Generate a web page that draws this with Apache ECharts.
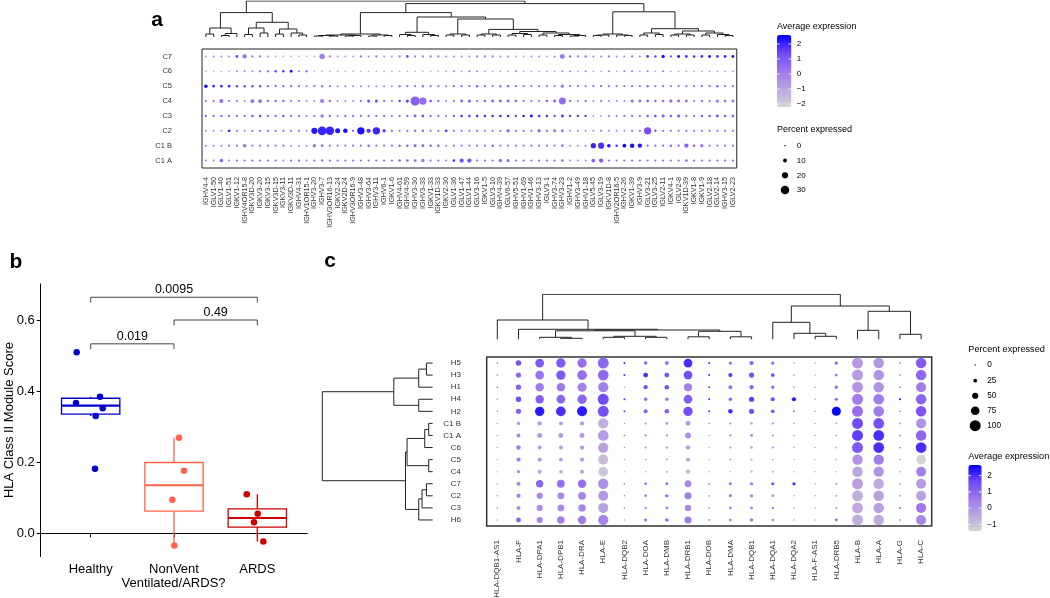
<!DOCTYPE html>
<html><head><meta charset="utf-8">
<script src="https://cdn.jsdelivr.net/npm/echarts@6/dist/echarts.min.js"></script>
<style>html,body{margin:0;padding:0;background:#fff}#c{width:1050px;height:598px}</style>
</head><body><div id="c"></div>
<script>
// ================= Panel a data =================
const aGenes = ['IGHV4-4','IGLV1-50','IGLV1-40','IGLV1-51','IGKV1-12','IGHV4OR15-8','IGKV3D-20','IGKV3-20','IGKV3-15','IGKV3D-15','IGKV3-11','IGKV3D-11','IGHV4-31','IGHV1OR15-1','IGHV3-20','IGHV3-7','IGHV3OR16-13','IGKV2-24','IGKV2D-24','IGHV3OR16-9','IGHV3-48','IGHV3-64','IGHV3-11','IGHV6-1','IGKV1-6','IGHV4-61','IGHV4-59','IGHV3-30','IGHV3-33','IGKV1-33','IGKV1D-33','IGKV2-30','IGLV1-36','IGLV1-47','IGLV1-44','IGLV3-16','IGKV1-5','IGLV3-10','IGHV4-39','IGLV6-57','IGHV5-51','IGHV1-69','IGHV1-46','IGHV3-13','IGLV3-1','IGHV3-74','IGHV3-23','IGHV1-2','IGHV3-49','IGHV1-18','IGLV5-45','IGLV3-19','IGKV1D-8','IGHV2OR16-5','IGHV2-26','IGKV1-39','IGHV3-9','IGLV3-21','IGLV3-25','IGLV2-11','IGKV4-1','IGLV2-8','IGKV1D-39','IGKV1-8','IGKV1-9','IGLV2-18','IGLV2-14','IGHV3-15','IGLV2-23'];
const aClusters = ['C7','C6','C5','C4','C3','C2','C1 B','C1 A'];

const aPct_C7 = [2,2,2,2,5,12,3,3,2,1, 1,1,1,1,1,17,3,2,2,2, 3,2,3,2,2,3,5,3,3,3, 3, 2,2,2,2,3,3,3,2,2,1, 1,2,2,1,2,14,3,3,3,2, 2,3,2,2,3,2,5,4,8,3, 6,5,4,5,6,5,5,6];
const aExp_C7 = [-0.5,0,0,0,1.5,0.3,0.5,0.5,-0.5,-0.5, -1,-1,-1,-1,-1,0,0,-0.5,-0.5,-0.5, 0.5,0,0.5,-0.5,-0.5,0.5,1.5,0.5,0.5,0.5, 0.5, 0,0,0,0,0.5,0.5,0.5,0,0,-0.5, -0.5,0,0,-0.5,0,0.3,1,0.5,1,0, 0,0.5,0,0,0.5,0,1.8,1.5,2.3,1.5, 2.3,2,2,2,2.2,2,2.2,2.3];
const aPct_C6 = [1,1,1,1,2,2,2,3,3,4, 4,6,2,3,1,1,1,1,1,1, 1,1,1,1,1,1,1,1,1,1, 1, 1,2,1,2,2,1,1,1,1,2, 1,1,1,1,1,2,2,1,2,1, 1,2,1,2,2,1,2,1,2,1, 1,1,1,1,1,1,1,1];
const aExp_C6 = [-1,-1,-1,-1,0,0,0,0.5,1,1.5, 1.8,2.3,0.5,1.5,-1,-1,-1,-1,-1,-1, -1,-1,-1,-1,-1,-1,-1,-1,-1,-1, -1, -0.5,0,-0.5,0.5,0,-0.5,-0.5,-0.5,-0.5,0.5, -0.5,-0.5,-0.5,-0.5,-0.5,0,0.3,-0.5,0.3,-0.5, -0.5,0.3,-0.5,0.3,0.3,-0.5,0.3,-0.5,0.3,-0.5, -0.5,-0.5,-0.5,-0.5,-0.5,-0.5,-0.5,-0.5];
const aPct_C5 = [9,5,5,5,4,4,4,4,3,3, 3,3,3,2,3,4,3,2,2,2, 2,2,2,2,2,4,3,3,4,3, 3, 2,3,3,3,4,3,3,4,4,3, 3,3,3,3,3,7,3,3,3,3, 3,3,3,3,3,3,4,3,3,3, 3,3,3,3,3,4,3,3];
const aExp_C5 = [2.4,2,2,2,1.5,1.5,1.5,1.2,1,1, 1,1,0.8,0.5,0.5,0.3,0.5,0,0,0, 0,0,0,0,0,0,0.5,0.3,0.5,0.5, 0.5, 0.3,0.8,0.8,0.8,1,0.8,0.5,0.5,0.5,0.5, 0.5,0.5,0.5,0.5,0.5,0.3,0.5,0.5,0.5,0.5, 0.8,0.5,0.5,0.5,0.5,0.5,0.5,0.5,0.5,0.5, 0.5,0.5,0.5,0.5,0.5,0.8,0.5,0.5];
const aPct_C4 = [3,3,12,3,3,2,10,10,4,4, 4,3,3,2,2,12,4,2,2,2, 3,7,7,3,2,4,7,33,25,4, 3, 2,3,6,7,3,4,6,6,6,4, 3,3,3,4,6,23,3,2,3,2, 3,2,2,2,7,6,6,4,5,8, 6,6,3,4,3,7,5,6];
const aExp_C4 = [0.5,0.5,0.2,0.5,0.5,0,0.5,0.5,0.5,0.5, 0.5,0.5,0.5,0,0,0,0.5,0,0,0, 0.5,1.2,1.2,1,0.5,1.5,1.5,0.8,0.5,1.5, 1, 0,0.5,0.8,0.8,0.8,0.8,0.8,0.8,0.8,0.8, 0.5,0.5,0.5,0.8,0.8,0.5,1,0.5,1,0, 0.5,0,0,0,0.5,0.5,0.5,0.5,0.5,0.3, 0.5,0.3,0.5,0.5,0.5,0.3,0.5,0.3];
const aPct_C3 = [3,3,3,3,3,3,4,4,3,3, 4,3,3,2,3,8,3,2,3,3, 3,3,3,3,2,3,3,5,6,3, 3, 2,3,4,4,4,4,4,4,4,3, 4,6,4,4,3,7,3,3,3,1, 1,2,2,3,3,3,4,4,7,4, 7,3,3,4,4,6,4,6];
const aExp_C3 = [1,1,1.2,1,0.8,1,1.2,1.5,1,1, 1.2,0.8,0.8,0.5,0.5,0.2,1,0.5,1,0.8, 0.8,0.8,0.8,1,0.5,0.8,1,1,1.2,1, 0.8, 0.5,1.5,1.8,1.8,2,2,2,2,2,1.8, 2.2,2.4,2,2,1.8,1.5,2,2,2,0, 0,0.5,0.5,0.5,0.5,0.5,1,1.5,0.8,1, 0.8,1,0.5,1,1,1.2,1,0.5];
const aPct_C2 = [2,2,2,5,3,2,3,3,3,3, 3,3,3,2,20,31,30,15,13,3, 25,12,25,8,3,2,3,4,4,3, 3, 5,3,3,3,3,3,3,3,8,3, 3,3,8,3,6,6,2,2,2,2, 3,2,2,2,3,3,25,4,3,3, 3,3,3,3,3,3,3,3];
const aExp_C2 = [0,0,0,2,0.5,0.5,0.5,0.8,0.8,0.5, 1,0.5,0.5,0,2.2,2,2,2.3,2.4,1, 2.3,1.8,2,1.5,1,0.5,0.5,0.5,0.5,0.5, 0.5, 1.8,0.8,0.5,0.5,0.8,0.5,0.5,0.5,0.5,0.5, 0.5,0.5,0.5,1,0.5,0.3,0,0,0,0, 0.3,0,0,0,0.3,0.5,1.2,1,0.5,0.5, 0.5,0.5,0.5,0.5,0.5,0.5,0.5,0.5];
const aPct_C1B = [2,2,2,3,3,9,3,3,3,3, 3,2,2,2,8,5,3,3,3,3, 3,4,3,3,3,4,4,6,6,4, 4, 2,3,3,3,3,3,4,3,3,3, 3,3,3,3,3,5,2,2,2,16, 20,9,4,10,13,12,3,3,3,4, 3,12,4,8,3,3,3,3];
const aExp_C1B = [0.3,0.3,0.3,0.5,0.5,0.3,0.5,0.5,0.5,0.3, 0.5,0,0,0,0.3,0.5,0.5,0.5,0.5,0.5, 0.5,0.8,0.5,0.5,0.5,0.8,1,0.8,0.8,1, 1, 0.3,0.5,0.5,0.5,0.5,0.5,1,0.5,0.5,0.5, 0.5,0.5,0.5,0.5,0.5,0.3,0,0,0,2, 1.8,2.3,1.8,2.4,2.3,2.3,0.8,0.8,0.8,0.8, 0.8,0.8,0.8,0.3,0.5,0.5,0.5,0.5];
const aPct_C1A = [2,2,9,2,3,3,3,3,3,3, 2,3,3,2,3,4,3,3,3,3, 3,3,3,3,3,4,4,5,8,3, 3, 2,4,12,12,3,3,3,8,7,3, 3,3,3,3,3,5,2,2,2,10, 12,3,3,3,3,3,3,3,3,3, 3,5,3,3,3,3,3,3];
const aExp_C1A = [0.3,0.3,0.8,0.3,0.5,0.5,0.5,0.5,0.5,0.5, 0.3,0.5,1,0.3,0.5,0.3,0.5,0.5,0.5,0.5, 0.5,0.5,0.5,0.5,0.5,0.8,1,0.5,0.3,0.5, 0.5, 0.3,2,1.2,1.2,0.5,0.5,0.5,0.5,0.5,0.5, 0.5,0.5,0.5,0.5,0.5,0.3,0,0,0,0.8, 0.8,0.5,0.5,0.5,0.5,0.5,0.5,0.5,0.5,0.5, 0.5,0.5,0.5,0.5,0.5,0.5,0.5,0.5];

// gene dendrogram (panel a): [height, left, right], leaves = column index
const aGeneTree = [36,
  [24.4,
    [9, [3, 0, 1], [3.5, [1.5, 2, 3], 4]],
    [14.7, [9, [2.5, 5, 6], [4, 7, 8]], [8, [3, 9, 10], [4, 11, [2, 12, 13]]]]],
  [33.4,
    [24.4,
      [3, [2, [1.5, [1, 14, 15], [1, 16, 17]], [1.5, [1, 18, 19], 20]], [2, [1, 21, 22], [1.5, 23, 24]]],
      [20,
        [4.7, [2.5, 25, [1.5, 26, 27]], [2.5, 28, [1.5, 29, 30]]],
        [18,
          [3, [2, 31, 32], [2, 33, 34]],
          [7.6, [3, [2, 35, 36], [2, 37, 38]],
                [5.5, [3.5, [2, 39, 40], [2.5, 41, 42]], [4, [2, 43, 44], [2.5, [1.5, 45, 46], [1.5, [1, 47, 48], 49]]]]]]]],
    [25.2,
      [3, [2, [1.5, 50, 51], 52], [2, 53, [1.5, 54, 55]]],
      [8.3, [4, [2, 56, 57], [2.5, 58, 59]], [6, [3, [2, 60, 61], [2, 62, 63]], [4, [2, 64, 65], [2.5, 66, [1.5, 67, 68]]]]]]]];

const aExpTicks = [2, 1, 0, -1, -2];
const aPctTicks = [0, 10, 20, 30];

// ================= Panel b data =================
const bGroups = ['Healthy', 'NonVent', 'ARDS'];
const bHealthy = [0.509, 0.3665, 0.3843, 0.3516, 0.330, 0.1818];
const bHealthyX = [0.832, 0.824, 1.112, 1.144, 1.060, 1.052];
const bNonVent = [0.269, 0.176, 0.0945, -0.034];
const bNonVentX = [2.06, 2.12, 1.98, 2.004];
const bARDS = [0.110, 0.055, 0.031, -0.023];
const bARDSX = [2.873, 3.005, 2.96, 3.072];
const bBrackets = [[1, 2, 0.533], [2, 3, 0.600], [1, 3, 0.664]];
const bPvalues = ['0.019', '0.49', '0.0095'];
const bYTicks = [0, 0.2, 0.4, 0.6];

// ================= Panel c data =================
const cGenes = ['HLA-DQB1-AS1','HLA-F','HLA-DPA1','HLA-DPB1','HLA-DRA','HLA-E','HLA-DQB2','HLA-DOA','HLA-DMB','HLA-DRB1','HLA-DOB','HLA-DMA','HLA-DQB1','HLA-DQA1','HLA-DQA2','HLA-F-AS1','HLA-DRB5','HLA-B','HLA-A','HLA-G','HLA-C'];
const cClusters = ['H5','H3','H1','H4','H2','C1 B','C1 A','C6','C5','C4','C7','C2','C3','H6'];
const cPct_H5 = [3,43,77,83,83,100,7,23,27,77,7,20,30,20,3,2,20,100,95,4,95];
const cExp_H5 = [1.0,1.5,1.3,1.3,0.8,1.0,2.0,1.0,0.8,2.0,2.0,0.8,1.0,1.0,0.5,0,1.0,-0.2,-0.1,0.5,1.2];
const cPct_H3 = [3,40,77,83,87,97,7,37,37,77,7,30,40,25,3,2,15,100,95,4,95];
const cExp_H3 = [0.8,1.0,0.7,1.3,0.8,0.9,2.0,2.0,1.4,1.5,2.0,1.8,1.5,1.5,0.5,0,0.8,-0.2,0,0.5,1.0];
const cPct_H1 = [3,40,73,73,80,93,3,30,33,70,7,27,30,20,3,2,20,100,95,4,90];
const cExp_H1 = [1.2,1.2,0.6,0.6,0.4,0.4,-0.3,1.5,1.5,0.4,1.8,0.8,1.0,1.0,0.5,0,1.0,-0.1,0,0.5,0.5];
const cPct_H4 = [3,43,73,77,83,100,7,23,23,77,7,23,40,30,30,2,20,100,97,6,95];
const cExp_H4 = [0.5,1.6,1.2,1.0,1.0,1.6,2.0,0.8,0.6,1.2,2.0,0.9,1.8,1.5,2.3,0,1.0,0.5,0.5,2.5,1.0];
const cPct_H2 = [3,40,83,87,90,100,7,27,33,83,7,33,40,25,8,2,80,100,97,4,95];
const cExp_H2 = [0.5,1.1,2.3,2.0,2.3,1.5,1.8,1.2,1.2,1.5,2.0,2.0,1.5,1.2,1.0,0,2.6,0.8,0.5,0.5,1.4];
const cPct_C1B = [2,20,30,27,30,93,2,7,13,37,3,7,12,8,3,2,5,100,97,4,90];
const cExp_C1B = [0,0.2,-0.2,-0.2,-0.2,-0.6,0,0.3,0.3,-0.1,0,0.5,0,0.3,0,0,0,1.6,1.5,0.5,0.0];
const cPct_C1A = [2,27,37,37,37,97,4,10,10,47,3,10,15,8,3,2,5,100,97,4,95];
const cExp_C1A = [0,0.3,-0.1,-0.1,-0.1,-0.2,0.5,0.5,0.3,0.1,0,0.5,0.3,0.3,0,0,0,1.8,2.0,0.5,1.0];
const cPct_C6 = [2,33,27,27,30,93,3,7,10,33,2,7,12,8,3,2,5,100,97,4,97];
const cExp_C6 = [0,0.4,-0.2,-0.2,-0.2,-0.3,0.3,0.3,0.2,-0.3,-0.5,0.3,0,0.3,0,0,0,1.3,2.0,0.5,2.0];
const cPct_C5 = [2,30,30,27,30,90,2,3,7,30,2,7,10,5,2,2,3,95,93,3,85];
const cExp_C5 = [-0.5,0.5,-0.2,-0.2,-0.2,-0.9,-0.5,0,0,-0.5,-0.5,0,-0.5,0,-0.5,-0.5,-0.5,0.0,0.5,0,-1.4];
const cPct_C4 = [2,20,27,23,27,87,2,3,7,30,2,3,10,5,2,2,3,95,93,3,88];
const cExp_C4 = [-0.5,0.2,-0.3,-0.3,-0.3,-1.1,-0.5,-0.2,-0.2,-0.7,-0.5,-0.2,-0.5,0,-0.5,-0.5,-0.5,-0.4,0,0,0.4];
const cPct_C7 = [3,27,63,67,73,93,4,13,17,57,4,17,20,20,20,2,5,100,95,4,90];
const cExp_C7 = [0.3,0.4,1.0,0.8,0.8,0.1,1.0,1.0,0.8,0.2,0.8,0.8,0.5,1.5,2.0,0,0.5,-0.3,-0.5,0.5,-0.2];
const cPct_C2 = [3,30,50,57,67,90,3,13,20,60,4,17,20,12,3,2,5,100,95,4,90];
const cExp_C2 = [0.3,0.5,0.3,0.3,0.3,-0.1,0.5,0.8,1.0,0.4,0.5,0.8,0.5,0.5,0,0,0.5,-0.6,-0.3,0.5,-0.3];
const cPct_C3 = [3,27,50,57,63,90,3,10,17,53,3,13,15,12,3,2,5,100,95,5,90];
const cExp_C3 = [0.3,0.2,0.2,0.2,0.3,-0.3,0.3,0.6,0.5,0.2,0.3,0.5,0.5,0.5,0,0,0.5,-0.5,-0.3,1.5,0.6];
const cPct_H6 = [2,37,50,63,73,93,2,17,20,60,4,13,20,12,3,2,15,100,95,4,90];
const cExp_H6 = [0,1.0,0.3,0.5,0.5,0.3,0,0.8,1.2,0.5,1.0,0.8,0.8,0.5,0,0,1.0,-0.6,-0.5,0.5,0.3];

const cGeneTree = [45,
  [19.3, 0, [10, 1, [9.3, [8.5, [2, 2, [1, 3, 4]], [3, [2, 5, 6], [2, 7, 8]]], [8, [2.5, 9, 10], [2.5, 11, 12]]]]],
  [33.3, [17, 13, [6, 14, [3, 15, 16]]], [28, [9, 17, 18], [5, 19, 20]]]];
const cClusterTree = [110.7,
  [39, [14, [6.3, 0, 1], 2], [14, 3, 4]],
  [27.3, [25.7, [8, [4, 5, 6], 7], [4, 8, 9]], [14, [10.7, [6.3, 10, 11], 12], 13]]];

const cExpTicks = [2, 1, 0, -1];
const cPctTicks = [0, 25, 50, 75, 100];

// ================= helpers =================
const FONT = '"Liberation Sans", Arial, Helvetica, sans-serif';
const GRAD = ['#D3D3D3', '#BBA5E0', '#9D77EC', '#7248F6', '#0000FF'];
const aSize = p => 1.5 + 0.235 * p;
const cSize = p => 1.3 + 0.097 * p;
const aRange = [-2.2, 2.6];
const cRange = [-1.4, 2.65];

function dotData(pctRows, expRows) {
  const out = [];
  pctRows.forEach((row, r) => row.forEach((p, i) => out.push([i, r, expRows[r][i], p])));
  return out;
}
const aDots = dotData(
  [aPct_C7, aPct_C6, aPct_C5, aPct_C4, aPct_C3, aPct_C2, aPct_C1B, aPct_C1A],
  [aExp_C7, aExp_C6, aExp_C5, aExp_C4, aExp_C3, aExp_C2, aExp_C1B, aExp_C1A]);
const cDots = dotData(
  [cPct_H5, cPct_H3, cPct_H1, cPct_H4, cPct_H2, cPct_C1B, cPct_C1A, cPct_C6, cPct_C5, cPct_C4, cPct_C7, cPct_C2, cPct_C3, cPct_H6],
  [cExp_H5, cExp_H3, cExp_H1, cExp_H4, cExp_H2, cExp_C1B, cExp_C1A, cExp_C6, cExp_C5, cExp_C4, cExp_C7, cExp_C2, cExp_C3, cExp_H6]);

function dendroSegments(tree, vertical) {
  const segs = [];
  (function walk(n) {
    if (typeof n === 'number') return { p: n, h: 0 };
    const A = walk(n[1]), B = walk(n[2]), h = n[0];
    const pts = [[A.p, A.h], [A.p, h], [B.p, h], [B.p, B.h]];
    segs.push({ coords: vertical ? pts : pts.map(q => [q[1], q[0]]) });
    return { p: (A.p + B.p) / 2, h };
  })(tree);
  return segs;
}

function quantile(s, q) {
  const h = (s.length - 1) * q, lo = Math.floor(h);
  const hi = Math.min(lo + 1, s.length - 1);
  return s[lo] + (h - lo) * (s[hi] - s[lo]);
}
function boxStats(vals) {
  const s = vals.slice().sort((a, b) => a - b);
  const q1 = quantile(s, 0.25), med = quantile(s, 0.5), q3 = quantile(s, 0.75);
  const iqr = q3 - q1;
  const lo = Math.min(...s.filter(v => v >= q1 - 1.5 * iqr));
  const hi = Math.max(...s.filter(v => v <= q3 + 1.5 * iqr));
  return [lo, q1, med, q3, hi];
}
const bColors = ['#0000CD', '#FF6347', '#CD0000'];
const bBoxData = [bHealthy, bNonVent, bARDS].map((v, i) => [i + 1].concat(boxStats(v)));
const bTick = 0.015;

// ================= graphics (legends, titles) =================
const graphics = [];
function txt(x, y, text, size) {
  graphics.push({ type: 'text', x, y, silent: true, z: 100,
    style: { text, font: size + 'px ' + FONT, fill: '#000', textAlign: 'left', textVerticalAlign: 'middle', align: 'left', verticalAlign: 'middle' } });
}
function ctext(x, y, text, font, rot) {
  graphics.push({ type: 'text', x, y, rotation: rot || 0, silent: true, z: 100,
    style: { text, font, fill: '#000', textAlign: 'center', textVerticalAlign: 'middle', align: 'center', verticalAlign: 'middle' } });
}
function barTicks(left, width, y) {
  const len = width / 5;
  [[left, left + len], [left + width - len, left + width]].forEach(([x1, x2]) =>
    graphics.push({ type: 'line', shape: { x1, y1: y, x2, y2: y }, style: { stroke: '#fff', lineWidth: 0.8 }, silent: true, z: 100 }));
}
// panel letters
ctext(157, 20, 'a', 'bold 21px ' + FONT);
ctext(16, 262, 'b', 'bold 21px ' + FONT);
ctext(330, 261, 'c', 'bold 21px ' + FONT);

// panel a legends
txt(777, 26.7, 'Average expression', 9);
const aBarTop = 35, aBarH = 72, aBarLeft = 777, aBarW = 14.4;
aExpTicks.forEach(v => {
  const y = aBarTop + (aRange[1] - v) / (aRange[1] - aRange[0]) * aBarH;
  txt(796.7, y, v < 0 ? '\u2212' + (-v) : String(v), 8);
  barTicks(aBarLeft, aBarW, y);
});
txt(777, 129.3, 'Percent expressed', 9);
const aPctY = [145.7, 160.5, 175.3, 190];
aPctTicks.forEach((v, i) => {
  graphics.push({ type: 'circle', shape: { cx: 785, cy: aPctY[i], r: aSize(v) / 2 }, style: { fill: '#000' }, silent: true });
  txt(796.7, aPctY[i], String(v), 8);
});

// panel c legends
txt(968.3, 349.3, 'Percent expressed', 9.2);
const cPctY = [365, 380.7, 395.7, 410.7, 425.7];
cPctTicks.forEach((v, i) => {
  graphics.push({ type: 'circle', shape: { cx: 975.2, cy: cPctY[i], r: cSize(v) / 2 }, style: { fill: '#000' }, silent: true });
  txt(987.3, cPctY[i], String(v), 8.2);
});
txt(968.3, 456.7, 'Average expression', 9.2);
const cBarTop = 465, cBarH = 66, cBarLeft = 968.3, cBarW = 13.4;
cExpTicks.forEach(v => {
  const y = cBarTop + (cRange[1] - v) / (cRange[1] - cRange[0]) * cBarH;
  txt(987.3, y, v < 0 ? '\u2212' + (-v) : String(v), 8.2);
  barTicks(cBarLeft, cBarW, y);
});

// panel b axis titles
ctext(9.5, 420, 'HLA Class II Module Score', '13px ' + FONT, Math.PI / 2);
ctext(173.5, 583.5, 'Ventilated/ARDS?', '13px ' + FONT);

// ================= chart =================
const chart = echarts.init(document.getElementById('c'), null, { renderer: 'canvas', width: 1050, height: 598 });
const hidden = { show: false };
const dotLabel = (size, margin, rot) => ({ interval: 0, rotate: rot, fontSize: size, color: '#333', margin, fontFamily: FONT });

const option = {
  animation: false,
  backgroundColor: '#fff',
  textStyle: { fontFamily: FONT },
  grid: [
    { left: 202, top: 1, width: 534.75, height: 36, outerBoundsMode: 'none' },
    { left: 202, top: 49, width: 534.75, height: 119, show: true, borderColor: '#222', borderWidth: 1, outerBoundsMode: 'none' },
    { left: 40.7, top: 284, width: 266.6, height: 272.7, outerBoundsMode: 'none' },
    { left: 486.7, top: 294.3, width: 445, height: 45, outerBoundsMode: 'none' },
    { left: 322.3, top: 357, width: 110.4, height: 169, outerBoundsMode: 'none' },
    { left: 486.7, top: 357, width: 445, height: 169, show: true, borderColor: '#333', borderWidth: 1.5, outerBoundsMode: 'none' }
  ],
  xAxis: [
    { gridIndex: 0, type: 'value', min: -0.5, max: 68.5, show: false },
    { gridIndex: 1, type: 'category', data: aGenes, axisLine: hidden, axisTick: hidden, splitLine: hidden, axisLabel: dotLabel(7.2, 9, 90) },
    { gridIndex: 2, type: 'value', min: 0.4, max: 3.6, splitLine: hidden,
      axisLine: { show: true, lineStyle: { color: '#000', width: 1 } },
      axisTick: { show: true, customValues: [1, 2, 3], length: 4, lineStyle: { color: '#000' } },
      axisLabel: { show: true, customValues: [1, 2, 3], formatter: v => bGroups[Math.round(v) - 1], fontSize: 13, color: '#000', margin: 6, fontFamily: FONT } },
    { gridIndex: 3, type: 'value', min: -0.5, max: 20.5, show: false },
    { gridIndex: 4, type: 'value', min: 0, max: 110.7, inverse: true, show: false },
    { gridIndex: 5, type: 'category', data: cGenes, axisLine: hidden, axisTick: hidden, splitLine: hidden, axisLabel: dotLabel(8, 14, 90) }
  ],
  yAxis: [
    { gridIndex: 0, type: 'value', min: 0, max: 36, show: false },
    { gridIndex: 1, type: 'category', data: aClusters, inverse: true, axisLine: hidden, axisTick: hidden, splitLine: hidden, axisLabel: dotLabel(7.5, 30, 0) },
    { gridIndex: 2, type: 'value', min: -0.0658, max: 0.7013, splitLine: hidden,
      axisLine: { show: true, lineStyle: { color: '#000', width: 1 } },
      axisTick: { show: true, customValues: bYTicks, length: 4, lineStyle: { color: '#000' } },
      axisLabel: { show: true, customValues: bYTicks, formatter: v => v.toFixed(1), fontSize: 13, color: '#000', margin: 6, fontFamily: FONT } },
    { gridIndex: 3, type: 'value', min: 0, max: 45, show: false },
    { gridIndex: 4, type: 'value', min: -0.5, max: 13.5, inverse: true, show: false },
    { gridIndex: 5, type: 'category', data: cClusters, inverse: true, axisLine: hidden, axisTick: hidden, splitLine: hidden, axisLabel: dotLabel(8, 25.7, 0) }
  ],
  visualMap: [
    { type: 'continuous', seriesIndex: 1, dimension: 2, min: aRange[0], max: aRange[1], inRange: { color: GRAD },
      left: aBarLeft, top: aBarTop, itemWidth: aBarW, itemHeight: aBarH, padding: 0, calculable: false, hoverLink: false, text: null, showLabel: false },
    { type: 'continuous', seriesIndex: 9, dimension: 2, min: cRange[0], max: cRange[1], inRange: { color: GRAD },
      left: cBarLeft, top: cBarTop, itemWidth: cBarW, itemHeight: cBarH, padding: 0, calculable: false, hoverLink: false, text: null, showLabel: false }
  ],
  series: [
    { type: 'lines', coordinateSystem: 'cartesian2d', xAxisIndex: 0, yAxisIndex: 0, polyline: true, silent: true,
      data: dendroSegments(aGeneTree, true), lineStyle: { color: '#222', width: 1, opacity: 1 } },
    { type: 'scatter', xAxisIndex: 1, yAxisIndex: 1, data: aDots, symbolSize: v => aSize(v[3]), itemStyle: { opacity: 1 }, silent: true },
    { type: 'custom', xAxisIndex: 2, yAxisIndex: 2, data: bBoxData, encode: { x: 0, y: [1, 2, 3, 4, 5] }, silent: true,
      renderItem: (params, api) => {
        const x = api.value(0), lo = api.value(1), q1 = api.value(2), med = api.value(3), q3 = api.value(4), hi = api.value(5);
        const col = bColors[params.dataIndex];
        const tl = api.coord([x - 0.35, q3]), br = api.coord([x + 0.35, q1]);
        const mL = api.coord([x - 0.35, med]), mR = api.coord([x + 0.35, med]);
        const wT0 = api.coord([x, q3]), wT1 = api.coord([x, hi]), wB0 = api.coord([x, q1]), wB1 = api.coord([x, lo]);
        const st = { stroke: col, lineWidth: 1.3, fill: null };
        return { type: 'group', children: [
          { type: 'line', shape: { x1: wT0[0], y1: wT0[1], x2: wT1[0], y2: wT1[1] }, style: st },
          { type: 'line', shape: { x1: wB0[0], y1: wB0[1], x2: wB1[0], y2: wB1[1] }, style: st },
          { type: 'rect', shape: { x: tl[0], y: tl[1], width: br[0] - tl[0], height: br[1] - tl[1] }, style: { stroke: col, lineWidth: 1.3, fill: '#fff' } },
          { type: 'line', shape: { x1: mL[0], y1: mL[1], x2: mR[0], y2: mR[1] }, style: { stroke: col, lineWidth: 2.2 } }
        ] };
      } },
    { type: 'scatter', xAxisIndex: 2, yAxisIndex: 2, data: bHealthyX.map((x, i) => [x, bHealthy[i]]), symbolSize: 6.5, itemStyle: { color: bColors[0], opacity: 1 }, silent: true },
    { type: 'scatter', xAxisIndex: 2, yAxisIndex: 2, data: bNonVentX.map((x, i) => [x, bNonVent[i]]), symbolSize: 6.5, itemStyle: { color: bColors[1], opacity: 1 }, silent: true },
    { type: 'scatter', xAxisIndex: 2, yAxisIndex: 2, data: bARDSX.map((x, i) => [x, bARDS[i]]), symbolSize: 6.5, itemStyle: { color: bColors[2], opacity: 1 }, silent: true },
    { type: 'custom', xAxisIndex: 2, yAxisIndex: 2, data: bBrackets.map(b => [b[0], b[2]]), encode: { x: 0, y: 1 }, silent: true,
      renderItem: (params, api) => {
        const b = bBrackets[params.dataIndex];
        const p1 = api.coord([b[0], b[2] - bTick]), p2 = api.coord([b[0], b[2]]), p3 = api.coord([b[1], b[2]]), p4 = api.coord([b[1], b[2] - bTick]);
        const mid = api.coord([(b[0] + b[1]) / 2, b[2]]);
        return { type: 'group', children: [
          { type: 'polyline', shape: { points: [p1, p2, p3, p4] }, style: { stroke: '#444', lineWidth: 1, fill: null } },
          { type: 'text', x: mid[0], y: mid[1] - 7.5, style: { text: bPvalues[params.dataIndex], font: '12.5px ' + FONT, fill: '#000', textAlign: 'center', textVerticalAlign: 'middle', align: 'center', verticalAlign: 'middle' } }
        ] };
      } },
    { type: 'lines', coordinateSystem: 'cartesian2d', xAxisIndex: 3, yAxisIndex: 3, polyline: true, silent: true,
      data: dendroSegments(cGeneTree, true), lineStyle: { color: '#222', width: 1, opacity: 1 } },
    { type: 'lines', coordinateSystem: 'cartesian2d', xAxisIndex: 4, yAxisIndex: 4, polyline: true, silent: true,
      data: dendroSegments(cClusterTree, false), lineStyle: { color: '#222', width: 1, opacity: 1 } },
    { type: 'scatter', xAxisIndex: 5, yAxisIndex: 5, data: cDots, symbolSize: v => cSize(v[3]), itemStyle: { opacity: 1 }, silent: true }
  ],
  graphic: { elements: graphics }
};
chart.setOption(option);
</script>
</body></html>
